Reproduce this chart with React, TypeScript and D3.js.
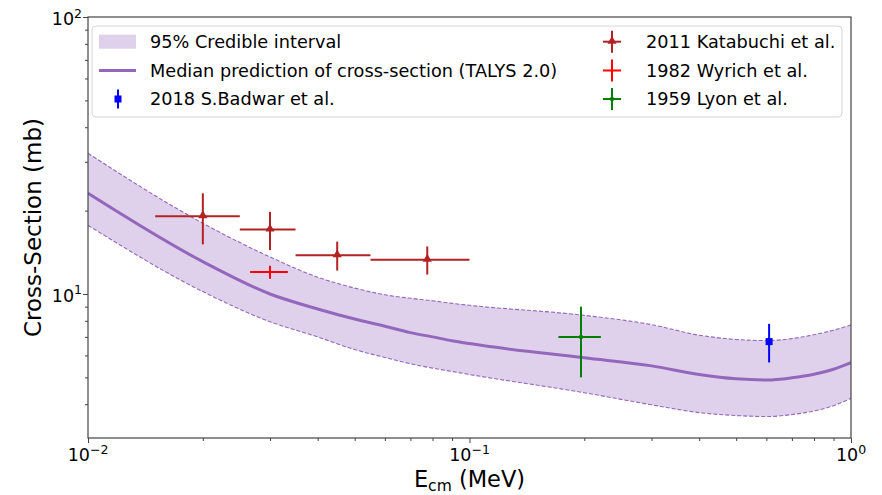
import React, { useEffect, useRef } from 'react';
import * as d3 from 'd3';

// TALYS 2.0 prediction grid (MeV) and cross-sections (mb)
const energyGrid = [0.01, 0.02, 0.03, 0.04, 0.05, 0.06, 0.07, 0.08, 0.09, 0.1, 0.2, 0.3, 0.4, 0.5, 0.6, 0.7, 0.8, 0.9, 1.0];
const upperBand = [32.2, 18.0, 13.6, 11.5, 10.5, 9.93, 9.65, 9.45, 9.25, 9.1, 8.37, 7.75, 7.1, 6.85, 6.79, 6.9, 7.13, 7.4, 7.73];
const medianXS = [23.1, 13.08, 10.0, 8.83, 8.12, 7.65, 7.25, 7.0, 6.78, 6.62, 5.88, 5.5, 5.12, 4.94, 4.89, 4.98, 5.13, 5.35, 5.65];
const lowerBand = [17.7, 10.2, 7.94, 7.0, 6.3, 5.9, 5.6, 5.4, 5.25, 5.12, 4.4, 3.98, 3.73, 3.64, 3.61, 3.67, 3.78, 3.95, 4.2];

// experimental data
const kataE = [0.02, 0.03, 0.045, 0.0775];
const kataEErr = [0.005, 0.005, 0.01, 0.0225];
const kataXS = [19.1, 17.1, 13.8, 13.3];
const kataXSErr = [4.0, 2.7, 1.65, 1.55];

const wyrichE = [0.03];
const wyrichEErr = [0.0034];
const wyrichXS = [12.0];
const wyrichXSErr = [0.65];

const lyonE = [0.196];
const lyonEErr = [0.025];
const lyonXS = [7.0];
const lyonXSErr = [2.0];

const badwarE = [0.61];
const badwarXS = [6.73];
const badwarXSErr = [1.07];

const xMajor = [0.01, 0.1, 1];
const xMajorExp = ['\u22122', '\u22121', '0'];
const yMajor = [10, 100];
const yMajorExp = ['1', '2'];

const W = 882;
const H = 495;
const FONT = 'DejaVu Sans, sans-serif';

const PURPLE = '#9467bd';
const BAND = '#dfd1eb';
const KATA = '#b22222';
const WYRICH = '#ff0000';
const LYON = '#008000';
const BADWAR = '#0000ff';

export default function App() {
  const svgRef = useRef<SVGSVGElement>(null);

  useEffect(() => {
    if (!svgRef.current) return;
    const svg = d3.select(svgRef.current);
    svg.selectAll('*').remove();

    const left = 88, right = 851, top = 17, bottom = 438;

    const x = d3.scaleLog().domain([0.01, 1]).range([left, right]);
    const y = d3.scaleLog().domain([3.02, 100]).range([bottom, top]);

    svg.append('rect').attr('width', W).attr('height', H).attr('fill', '#ffffff');

    // clip to axes
    svg.append('clipPath').attr('id', 'plotclip')
      .append('rect').attr('x', left).attr('y', top).attr('width', right - left).attr('height', bottom - top);
    const plot = svg.append('g').attr('clip-path', 'url(#plotclip)');

    const idx = d3.range(energyGrid.length);

    // credible band
    const area = d3.area<number>()
      .x(i => x(energyGrid[i]))
      .y0(i => y(lowerBand[i]))
      .y1(i => y(upperBand[i]))
      .curve(d3.curveMonotoneX);
    plot.append('path').datum(idx).attr('d', area).attr('fill', BAND);

    const edge = (vals: number[]) => d3.line<number>()
      .x(i => x(energyGrid[i])).y(i => y(vals[i])).curve(d3.curveMonotoneX);
    [upperBand, lowerBand].forEach(vals => {
      plot.append('path').datum(idx).attr('d', edge(vals))
        .attr('fill', 'none').attr('stroke', PURPLE).attr('stroke-width', 1.1)
        .attr('stroke-dasharray', '4,2');
    });

    plot.append('path').datum(idx).attr('d', edge(medianXS))
      .attr('fill', 'none').attr('stroke', PURPLE).attr('stroke-width', 3);

    const drawMarker = (g: any, cx: number, cy: number, color: string, marker: string) => {
      if (marker === 'triangle') {
        g.append('path').attr('d', d3.symbol(d3.symbolTriangle, 36)())
          .attr('transform', `translate(${cx},${cy - 0.5})`).attr('fill', color);
      } else if (marker === 'square') {
        g.append('rect').attr('x', cx - 3.5).attr('y', cy - 3.5).attr('width', 7).attr('height', 7).attr('fill', color);
      } else if (marker === 'dot') {
        g.append('circle').attr('cx', cx).attr('cy', cy).attr('r', 2.2).attr('fill', color);
      }
    };

    // error bars
    const drawSeries = (
      es: number[], eErr: number[] | null, xs: number[], xsErr: number[],
      color: string, marker: string
    ) => {
      es.forEach((e, i) => {
        const g = plot.append('g');
        if (eErr) {
          g.append('line')
            .attr('x1', x(e - eErr[i])).attr('x2', x(e + eErr[i]))
            .attr('y1', y(xs[i])).attr('y2', y(xs[i]))
            .attr('stroke', color).attr('stroke-width', 2);
        }
        g.append('line')
          .attr('x1', x(e)).attr('x2', x(e))
          .attr('y1', y(xs[i] - xsErr[i])).attr('y2', y(xs[i] + xsErr[i]))
          .attr('stroke', color).attr('stroke-width', 2);
        drawMarker(g, x(e), y(xs[i]), color, marker);
      });
    };

    drawSeries(kataE, kataEErr, kataXS, kataXSErr, KATA, 'triangle');
    drawSeries(wyrichE, wyrichEErr, wyrichXS, wyrichXSErr, WYRICH, 'none');
    drawSeries(lyonE, lyonEErr, lyonXS, lyonXSErr, LYON, 'dot');
    drawSeries(badwarE, null, badwarXS, badwarXSErr, BADWAR, 'square');

    // axes frame
    svg.append('rect').attr('x', left).attr('y', top).attr('width', right - left).attr('height', bottom - top)
      .attr('fill', 'none').attr('stroke', '#444').attr('stroke-width', 1.2);

    const xMinor = x.ticks().filter(t => !xMajor.some(m => Math.abs(m - t) < 1e-9));
    const yMinor = y.ticks().filter(t => !yMajor.some(m => Math.abs(m - t) < 1e-9));

    const xAxisMajor = svg.append('g').attr('transform', `translate(0,${bottom})`)
      .call(d3.axisBottom(x).tickValues(xMajor).tickSize(5).tickFormat(() => ''));
    const xAxisMinor = svg.append('g').attr('transform', `translate(0,${bottom})`)
      .call(d3.axisBottom(x).tickValues(xMinor).tickSize(3).tickFormat(() => ''));
    const yAxisMajor = svg.append('g').attr('transform', `translate(${left},0)`)
      .call(d3.axisLeft(y).tickValues(yMajor).tickSize(5).tickFormat(() => ''));
    const yAxisMinor = svg.append('g').attr('transform', `translate(${left},0)`)
      .call(d3.axisLeft(y).tickValues(yMinor).tickSize(3).tickFormat(() => ''));
    [xAxisMajor, xAxisMinor, yAxisMajor, yAxisMinor].forEach(a => {
      a.select('.domain').remove();
      a.selectAll('line').attr('stroke', '#444').attr('stroke-width', 1);
    });

    // tick labels with superscripts
    xMajor.forEach((v, i) => {
      const t = svg.append('text').attr('x', x(v)).attr('y', 461)
        .attr('text-anchor', 'middle').attr('font-family', FONT).attr('font-size', 17.5).attr('fill', '#000');
      t.append('tspan').text('10');
      t.append('tspan').attr('dy', -7.5).attr('font-size', 12.5).text(xMajorExp[i]);
    });
    yMajor.forEach((v, i) => {
      const t = svg.append('text').attr('x', 82).attr('y', y(v) + 8)
        .attr('text-anchor', 'end').attr('font-family', FONT).attr('font-size', 17.5).attr('fill', '#000');
      t.append('tspan').text('10');
      t.append('tspan').attr('dy', -7.5).attr('font-size', 12.5).text(yMajorExp[i]);
    });

    // axis labels
    const xl = svg.append('text').attr('x', (left + right) / 2).attr('y', 487)
      .attr('text-anchor', 'middle').attr('font-family', FONT).attr('font-size', 22.5).attr('fill', '#000');
    xl.append('tspan').text('E');
    xl.append('tspan').attr('dy', 4).attr('font-size', 15.5).text('cm');
    xl.append('tspan').attr('dy', -4).text(' (MeV)');

    svg.append('text')
      .attr('transform', `translate(41,${(top + bottom) / 2}) rotate(-90)`)
      .attr('text-anchor', 'middle').attr('font-family', FONT).attr('font-size', 23).attr('fill', '#000')
      .text('Cross-Section (mb)');

    // legend
    const lg = svg.append('g');
    lg.append('rect').attr('x', 92).attr('y', 26).attr('width', 750).attr('height', 91).attr('rx', 4)
      .attr('fill', 'rgba(255,255,255,0.8)').attr('stroke', '#d6d6d6').attr('stroke-width', 1);

    const rows = [41.7, 70.5, 99];
    const legText = (tx: number, ty: number, s: string) =>
      lg.append('text').attr('x', tx).attr('y', ty + 6.3).attr('font-family', FONT)
        .attr('font-size', 17.7).attr('fill', '#000').text(s);

    lg.append('rect').attr('x', 99).attr('y', rows[0] - 7).attr('width', 37).attr('height', 14).attr('fill', BAND);
    legText(150, rows[0], '95% Credible interval');
    lg.append('line').attr('x1', 99).attr('x2', 136).attr('y1', rows[1]).attr('y2', rows[1])
      .attr('stroke', PURPLE).attr('stroke-width', 3);
    legText(150, rows[1], 'Median prediction of cross-section (TALYS 2.0)');
    const bh = lg.append('g');
    bh.append('line').attr('x1', 118).attr('x2', 118).attr('y1', rows[2] - 9.5).attr('y2', rows[2] + 9.5)
      .attr('stroke', BADWAR).attr('stroke-width', 2);
    drawMarker(bh, 118, rows[2], BADWAR, 'square');
    legText(150, rows[2], '2018 S.Badwar et al.');

    const rightEntries: [string, string, string][] = [
      ['2011 Katabuchi et al.', KATA, 'triangle'],
      ['1982 Wyrich et al.', WYRICH, 'none'],
      ['1959 Lyon et al.', LYON, 'dot'],
    ];
    rightEntries.forEach(([label, color, marker], i) => {
      const cx = 612, cy = rows[i];
      const g = lg.append('g');
      g.append('line').attr('x1', cx - 9).attr('x2', cx + 9).attr('y1', cy).attr('y2', cy)
        .attr('stroke', color).attr('stroke-width', 2);
      g.append('line').attr('x1', cx).attr('x2', cx).attr('y1', cy - 11).attr('y2', cy + 11)
        .attr('stroke', color).attr('stroke-width', 2);
      drawMarker(g, cx, cy, color, marker);
      legText(646, cy, label);
    });
  }, []);

  return (
    <div style={{ position: 'absolute', left: 0, top: 0, width: W, height: H }}>
      <svg ref={svgRef} width={W} height={H} style={{ display: 'block' }} />
    </div>
  );
}
